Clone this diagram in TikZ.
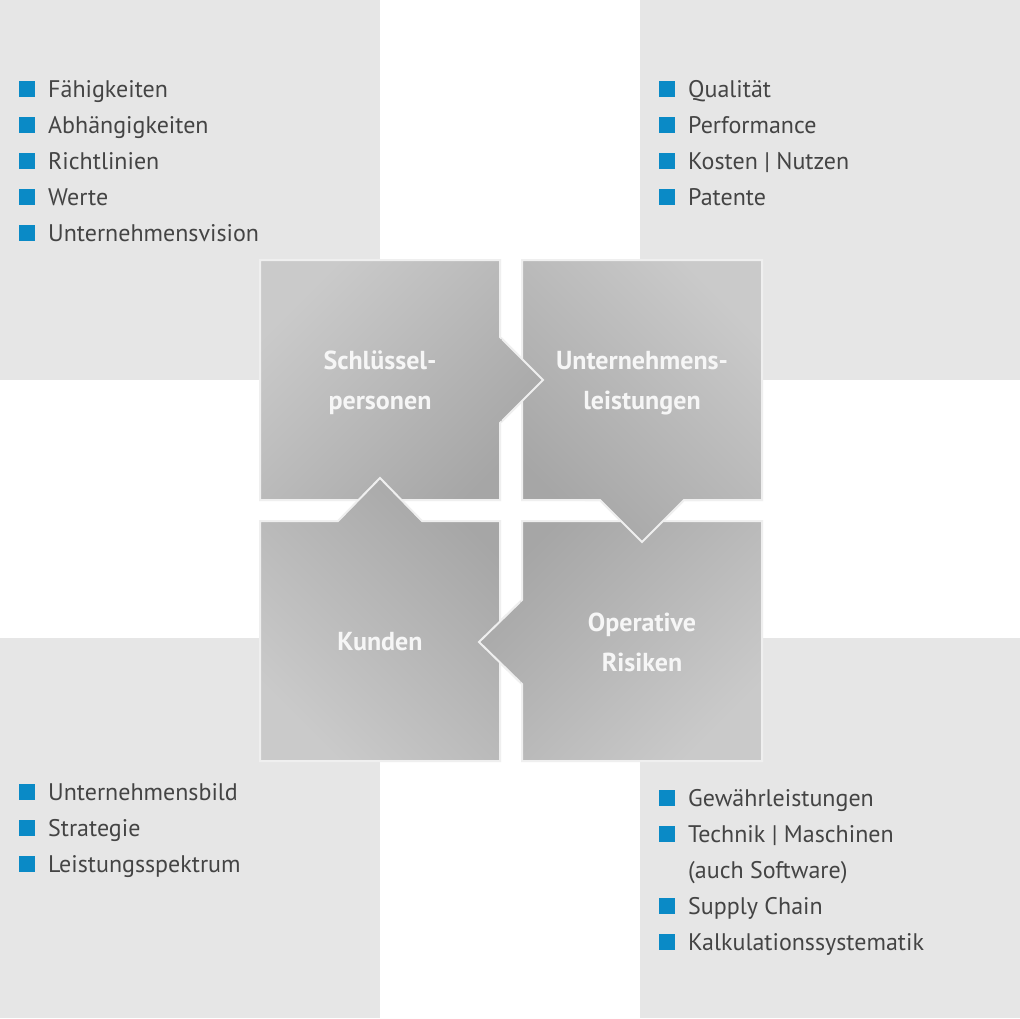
\documentclass[tikz,border=0pt]{standalone}
\usepackage{fontspec}
\setmainfont{PT Sans}
\definecolor{bgq}{HTML}{E6E6E6}
\definecolor{bul}{HTML}{0A8AC6}
\definecolor{txt}{HTML}{444444}
\definecolor{lite}{HTML}{CACACA}
\definecolor{dark}{HTML}{A6A6A6}
\definecolor{edge}{HTML}{EFEFEF}
\definecolor{lbl}{HTML}{F6F6F6}
\begin{document}
\begin{tikzpicture}[x=1pt,y=-1pt,
  quad/.style={fill=bgq},
  tile/.style={draw=edge,line width=2pt,line join=miter},
  bigtxt/.style={anchor=base,text=lbl,font=\fontsize{26}{40}\selectfont\bfseries,inner sep=0pt},
  item/.style={anchor=base west,text=txt,font=\fontsize{24}{28}\selectfont,inner sep=0pt},
  bullet/.style={fill=bul,minimum size=16pt,inner sep=0pt,anchor=center}
]
\useasboundingbox (0,0) rectangle (1020,1018);
\fill[white] (0,0) rectangle (1020,1018);
% background quadrants
\fill[quad] (0,0) rectangle (380,380);
\fill[quad] (640,0) rectangle (1020,380);
\fill[quad] (0,638) rectangle (380,1018);
\fill[quad] (640,638) rectangle (1020,1018);
% tiles
\def\tlpath{(260,260) -- (500,260) -- (500,337) -- (543,380) -- (500,423) -- (500,500) -- (260,500) -- cycle}
\def\trpath{(522,260) -- (762,260) -- (762,500) -- (684,500) -- (642,542) -- (600,500) -- (522,500) -- cycle}
\def\brpath{(522,521) -- (762,521) -- (762,761) -- (522,761) -- (522,684) -- (479,642) -- (522,600) -- cycle}
\def\blpath{(260,521) -- (338,521) -- (380,478) -- (422,521) -- (500,521) -- (500,761) -- (260,761) -- cycle}
\tikzset{
  tlshade/.style={tile,top color=lite,bottom color=dark,shading angle=45},
  trshade/.style={tile,top color=lite,bottom color=dark,shading angle=-45},
  brshade/.style={tile,top color=dark,bottom color=lite,shading angle=45},
  blshade/.style={tile,top color=dark,bottom color=lite,shading angle=-45}
}
\shade[tlshade] \tlpath;
\shade[trshade] \trpath;
\shade[brshade] \brpath;
\shade[blshade] \blpath;
% tips that lie over the neighbouring tile
\begin{scope}
\clip (501.5,320) rectangle (560,440);
\shade[tlshade] \tlpath;
\end{scope}
\begin{scope}
\clip (585,501.5) rectangle (700,560);
\shade[trshade] \trpath;
\end{scope}
\begin{scope}
\clip (460,585) rectangle (520.5,700);
\shade[brshade] \brpath;
\end{scope}
% tile labels
\node[bigtxt] (sp1) at (380,369) {Schlüssel-};
\node[bigtxt] (sp2) at (380,409) {personen};
\node[bigtxt] (ul1) at (642,369) {Unternehmens-};
\node[bigtxt] (ul2) at (642,409) {leistungen};
\node[bigtxt] (ku) at (380,650) {Kunden};
\node[bigtxt] (or1) at (642,631) {Operative};
\node[bigtxt] (or2) at (642,671) {Risiken};
% top-left list
\foreach \t [count=\i] in {Fähigkeiten,Abhängigkeiten,Richtlinien,Werte,Unternehmensvision}{
  \node[bullet] (tlb\i) at (27,53+36*\i) {};
  \node[item] (tlt\i) at (48,61+36*\i) {\t};
}
% top-right list
\foreach \t [count=\i] in {Qualität,Performance,Kosten | Nutzen,Patente}{
  \node[bullet] (trb\i) at (667,53+36*\i) {};
  \node[item] (trt\i) at (688,61+36*\i) {\t};
}
% bottom-left list
\foreach \t [count=\i] in {Unternehmensbild,Strategie,Leistungsspektrum}{
  \node[bullet] (blb\i) at (27,756+36*\i) {};
  \node[item] (blt\i) at (48,764+36*\i) {\t};
}
% bottom-right list
\node[bullet] (brb1) at (667,798) {};
\node[item] (brt1) at (688,806) {Gewährleistungen};
\node[bullet] (brb2) at (667,834) {};
\node[item] (brt2) at (688,842) {Technik | Maschinen};
\node[item] (brt2b) at (688,878) {(auch Software)};
\node[bullet] (brb3) at (667,906) {};
\node[item] (brt3) at (688,914) {Supply Chain};
\node[bullet] (brb4) at (667,942) {};
\node[item] (brt4) at (688,950) {Kalkulationssystematik};
\end{tikzpicture}
\end{document}
